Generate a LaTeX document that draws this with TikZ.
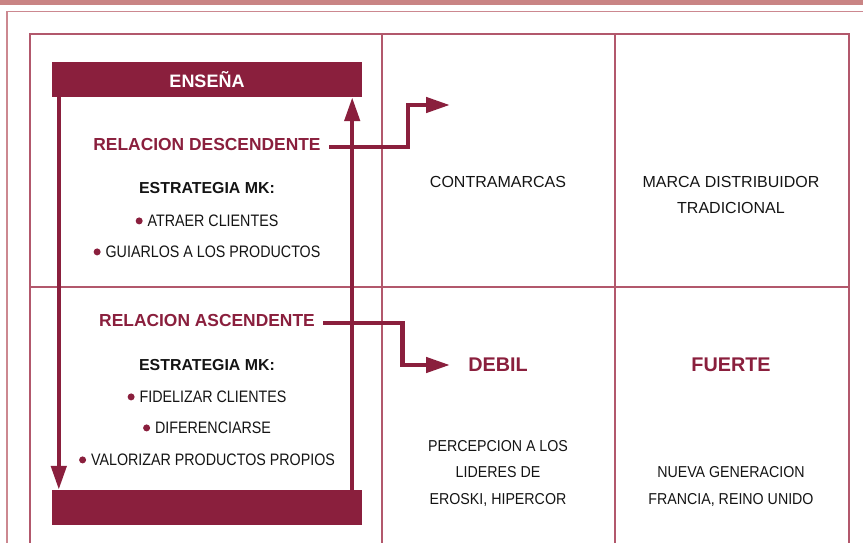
\documentclass[tikz,border=0pt]{standalone}
\usepackage{fontspec}
\setmainfont{Liberation Sans}
\newfontfamily\estrecha[FakeStretch=0.86]{Liberation Sans}
\newfontfamily\media[FakeStretch=0.9]{Liberation Sans}
\usetikzlibrary{arrows.meta}

\definecolor{vino}{RGB}{138,31,61}
\definecolor{rejilla}{RGB}{178,88,108}
\definecolor{marco}{RGB}{204,136,144}
\definecolor{franja}{RGB}{201,132,132}
\definecolor{tinta}{RGB}{20,20,20}

\newcommand{\punto}{\tikz[baseline=-5.8pt]\fill[vino] (0pt,0pt) circle (3.5pt);\hspace{5pt}}

\tikzset{
    flecha/.style={draw=vino, line width=4.5pt, -{Triangle[length=24pt,width=15pt]}},
    barra/.style={fill=vino, minimum width=310pt, minimum height=35pt, inner sep=0pt,
        text=white, font=\fontsize{18}{20}\selectfont\bfseries},
    relacion/.style={text=vino, font=\fontsize{17.4}{20}\selectfont\bfseries},
    estrategia/.style={text=tinta, font=\fontsize{15.9}{18}\selectfont\bfseries},
    lista/.style={text=tinta, font=\estrecha\fontsize{16.6}{18}\selectfont},
    celda/.style={text=tinta, align=center, font=\fontsize{16}{26}\selectfont},
    celdab/.style={text=tinta, align=center, font=\media\fontsize{15.8}{26.5}\selectfont},
    nivel/.style={text=vino, font=\fontsize{19.8}{22}\selectfont\bfseries},
    rejilla/.style={draw=rejilla, line width=1.3pt}
}

\begin{document}
\begin{tikzpicture}[x=1pt, y=-1pt]
    \useasboundingbox (0,0) rectangle (863,543);

    % fondo y marco
    \fill[franja] (0,0) rectangle (863,5.5);
    \draw[marco, line width=1.5pt] (7,560) -- (7,11.5) -- (880,11.5);

    % tabla
    \draw[rejilla] (30,560) -- (30,34) -- (849,34) -- (849,560);
    \draw[rejilla] (382,34) -- (382,560);
    \draw[rejilla] (615,34) -- (615,560);
    \draw[rejilla] (30,287) -- (849,287);

    % columna izquierda
    \node[barra] (ensena) at (207,79.5) {ENSEÑA};
    \node[barra] (base) at (207,507.5) {};

    \node[relacion] (desc) at (207,145) {RELACION DESCENDENTE};
    \node[estrategia] (estA) at (207,188) {ESTRATEGIA MK:};
    \node[lista] (atraer) at (207,221) {\punto ATRAER CLIENTES};
    \node[lista] (guiar) at (207,252) {\punto GUIARLOS A LOS PRODUCTOS};

    \node[relacion] (asc) at (207,321) {RELACION ASCENDENTE};
    \node[estrategia] (estB) at (207,365) {ESTRATEGIA MK:};
    \node[lista] (fidel) at (207,397) {\punto FIDELIZAR CLIENTES};
    \node[lista] (difer) at (207,428) {\punto DIFERENCIARSE};
    \node[lista] (valor) at (207,460) {\punto VALORIZAR PRODUCTOS PROPIOS};

    % columnas derechas
    \node[celda] (contra) at (498,182) {CONTRAMARCAS};
    \node[celda] (marca) at (731,195) {MARCA DISTRIBUIDOR\\TRADICIONAL};
    \node[nivel] (debil) at (498,365) {DEBIL};
    \node[nivel] (fuerte) at (731,365) {FUERTE};
    \node[celdab] (percep) at (498,473) {PERCEPCION A LOS\\LIDERES DE\\EROSKI, HIPERCOR};
    \node[celdab] (nueva) at (731,486.5) {NUEVA GENERACION\\FRANCIA, REINO UNIDO};

    % flechas
    \coordinate (finDesc) at (450,105);
    \coordinate (finAsc) at (450,365);
    \draw[flecha] ([xshift=7pt]ensena.south west) -- ([xshift=7pt]base.north west);
    \draw[flecha] ([xshift=-10pt]base.north east) -- ([xshift=-10pt]ensena.south east);
    \draw[flecha] ([xshift=5pt, yshift=-2pt]desc.east) -- ++(79,0) |- (finDesc);
    \draw[flecha] ([xshift=5pt, yshift=-2pt]asc.east) -- ++(79,0) |- (finAsc);

\end{tikzpicture}
\end{document}
